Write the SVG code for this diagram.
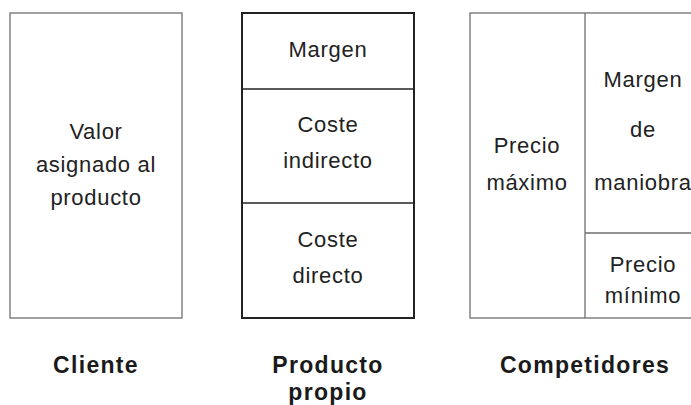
<svg xmlns="http://www.w3.org/2000/svg" width="691" height="405" viewBox="0 0 691 405">
<style>
.box{fill:#fff;stroke:#6e6e6e;stroke-width:1.3}
.box2{fill:#fff;stroke:#222;stroke-width:2}
.thin{stroke:#6e6e6e;stroke-width:1.3}
.div{stroke:#222;stroke-width:1.5}
.t{font-family:"Liberation Sans",Arial,sans-serif;font-size:22px;fill:#222;text-anchor:middle;letter-spacing:0.7px}
.lbl{font-family:"Liberation Sans",Arial,sans-serif;font-size:23px;font-weight:bold;fill:#1a1a1a;text-anchor:middle;letter-spacing:1.3px}
</style>
<rect width="691" height="405" fill="#fff"/>
<g id="cliente">
<rect class="box" x="10" y="13" width="172" height="305"/>
<text class="t" x="96" y="139">Valor</text>
<text class="t" x="96" y="172">asignado al</text>
<text class="t" x="96" y="205">producto</text>
<text class="lbl" x="96" y="373">Cliente</text>
</g>
<g id="producto">
<rect class="box2" x="242" y="13" width="172" height="305"/>
<line class="div" x1="242" y1="89" x2="414" y2="89"/>
<line class="div" x1="242" y1="203" x2="414" y2="203"/>
<text class="t" x="328" y="57">Margen</text>
<text class="t" x="328" y="132">Coste</text>
<text class="t" x="328" y="168">indirecto</text>
<text class="t" x="328" y="247">Coste</text>
<text class="t" x="328" y="283">directo</text>
<text class="lbl" x="328" y="373">Producto</text>
<text class="lbl" x="328" y="400">propio</text>
</g>
<g id="competidores">
<rect class="box" x="470" y="13" width="231" height="305"/>
<line class="thin" x1="585" y1="13" x2="585" y2="318"/>
<line class="thin" x1="585" y1="233" x2="701" y2="233"/>
<text class="t" x="527" y="153">Precio</text>
<text class="t" x="527" y="190">máximo</text>
<text class="t" x="643" y="87">Margen</text>
<text class="t" x="643" y="137">de</text>
<text class="t" x="643" y="190">maniobra</text>
<text class="t" x="643" y="272">Precio</text>
<text class="t" x="643" y="303">mínimo</text>
<text class="lbl" x="585" y="373">Competidores</text>
</g>
<g id="connectors"></g>
</svg>
